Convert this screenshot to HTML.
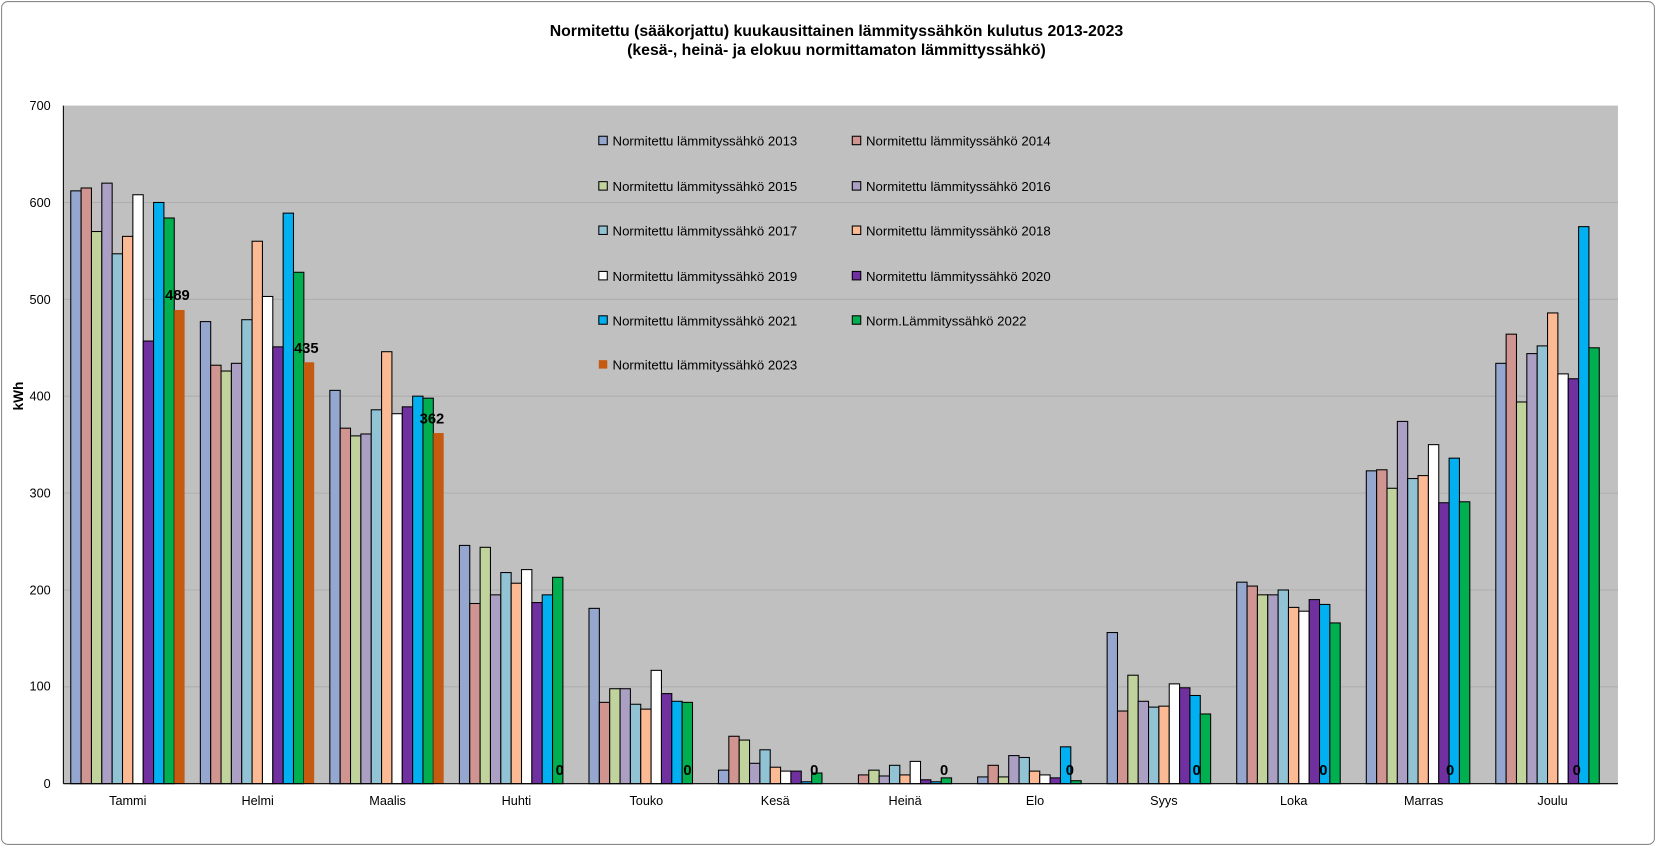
<!DOCTYPE html>
<html><head><meta charset="utf-8"><style>
html,body{margin:0;padding:0;background:#fff;}
svg{display:block;font-family:"Liberation Sans",sans-serif;}
</style></head><body>
<svg id="c" width="1656" height="846" viewBox="0 0 1568 801" preserveAspectRatio="none" xmlns="http://www.w3.org/2000/svg">
<rect x="1.5" y="1.5" width="1565" height="798" rx="6" fill="#fff" stroke="#888" stroke-width="1"/>
<text x="792" y="34" text-anchor="middle" font-size="15" font-weight="bold">Normitettu (sääkorjattu) kuukausittainen lämmityssähkön kulutus 2013-2023</text>
<text x="792" y="52" text-anchor="middle" font-size="15" font-weight="bold">(kesä-, heinä- ja elokuu normittamaton lämmittyssähkö)</text>
<rect x="60" y="100" width="1472" height="642" fill="#c0c0c0"/>
<g stroke="#aeaeae" stroke-width="1">
<line x1="60" x2="1532" y1="650.3" y2="650.3"/><line x1="60" x2="1532" y1="558.6" y2="558.6"/>
<line x1="60" x2="1532" y1="466.9" y2="466.9"/><line x1="60" x2="1532" y1="375.1" y2="375.1"/>
<line x1="60" x2="1532" y1="283.4" y2="283.4"/><line x1="60" x2="1532" y1="191.7" y2="191.7"/>
</g>
<g id="bars"></g>
<line x1="60" x2="60" y1="100" y2="742" stroke="#000"/>
<line x1="60" x2="1532" y1="742" y2="742" stroke="#000"/>
<g font-size="12" text-anchor="end">
<text x="48" y="746">0</text><text x="48" y="654">100</text><text x="48" y="563">200</text><text x="48" y="471">300</text>
<text x="48" y="379">400</text><text x="48" y="288">500</text><text x="48" y="196">600</text><text x="48" y="104">700</text>
</g>
<text transform="translate(22,375) rotate(-90)" text-anchor="middle" font-size="13" font-weight="bold">kWh</text>
<g font-size="12" text-anchor="middle">
<text x="121" y="762">Tammi</text><text x="244" y="762">Helmi</text><text x="367" y="762">Maalis</text><text x="489" y="762">Huhti</text>
<text x="612" y="762">Touko</text><text x="734" y="762">Kesä</text><text x="857" y="762">Heinä</text><text x="980" y="762">Elo</text>
<text x="1102" y="762">Syys</text><text x="1225" y="762">Loka</text><text x="1348" y="762">Marras</text><text x="1470" y="762">Joulu</text>
</g>
<g font-size="14" font-weight="bold" text-anchor="middle">
<text x="168" y="284">489</text><text x="290" y="334">435</text><text x="409" y="401">362</text>
<text x="530" y="734">0</text><text x="651" y="734">0</text><text x="771" y="734">0</text><text x="894" y="734">0</text>
<text x="1013" y="734">0</text><text x="1133" y="734">0</text><text x="1253" y="734">0</text><text x="1373" y="734">0</text><text x="1493" y="734">0</text>
</g>
<g font-size="12.5" fill="#000">
<rect x="567" y="129" width="8" height="8" fill="#95a7cf" stroke="#000"/><text x="580" y="138">Normitettu lämmityssähkö 2013</text>
<rect x="807" y="129" width="8" height="8" fill="#d09590" stroke="#000"/><text x="820" y="138">Normitettu lämmityssähkö 2014</text>
<rect x="567" y="172" width="8" height="8" fill="#c0d39d" stroke="#000"/><text x="580" y="181">Normitettu lämmityssähkö 2015</text>
<rect x="807" y="172" width="8" height="8" fill="#ab9fc3" stroke="#000"/><text x="820" y="181">Normitettu lämmityssähkö 2016</text>
<rect x="567" y="214" width="8" height="8" fill="#92c3d5" stroke="#000"/><text x="580" y="223">Normitettu lämmityssähkö 2017</text>
<rect x="807" y="214" width="8" height="8" fill="#fbb994" stroke="#000"/><text x="820" y="223">Normitettu lämmityssähkö 2018</text>
<rect x="567" y="257" width="8" height="8" fill="#ffffff" stroke="#000"/><text x="580" y="266">Normitettu lämmityssähkö 2019</text>
<rect x="807" y="257" width="8" height="8" fill="#7030a0" stroke="#000"/><text x="820" y="266">Normitettu lämmityssähkö 2020</text>
<rect x="567" y="299" width="8" height="8" fill="#00b0f0" stroke="#000"/><text x="580" y="308">Normitettu lämmityssähkö 2021</text>
<rect x="807" y="299" width="8" height="8" fill="#00b050" stroke="#000"/><text x="820" y="308">Norm.Lämmityssähkö 2022</text>
<rect x="567" y="341" width="8" height="8" fill="#c55a11"/><text x="580" y="350">Normitettu lämmityssähkö 2023</text>
</g>
</svg>
<script>
var d=[[612,615,570,620,547,565,608,457,600,584,489],[477,432,426,434,479,560,503,451,589,528,435],[406,367,359,361,386,446,382,389,400,398,362],[246,186,244,195,218,207,221,187,195,213,0],[181,84,98,98,82,77,117,93,85,84,0],[14,49,45,21,35,17,13,13,2,11,0],[0,9,14,8,19,9,23,4,2,6,0],[7,19,7,29,27,13,9,6,38,3,0],[156,75,112,85,79,80,103,99,91,72,0],[208,204,195,195,200,182,178,190,185,166,0],[323,324,305,374,315,318,350,290,336,291,0],[434,464,394,444,452,486,423,418,575,450,0]];
var c=["#95a7cf","#d09590","#c0d39d","#ab9fc3","#92c3d5","#fbb994","#ffffff","#7030a0","#00b0f0","#00b050","#c55a11"];
var g=document.getElementById("bars"),s="";
for(var i=0;i<12;i++)for(var j=0;j<11;j++){var v=d[i][j];if(!v)continue;var h=v*0.91714,x=60+i*122.667+7+j*9.8;
s+='<rect x="'+x.toFixed(1)+'" y="'+(742-h).toFixed(1)+'" width="9.8" height="'+h.toFixed(1)+'" fill="'+c[j]+'"'+(j<10?' stroke="#000" stroke-width="1"':'')+'/>';}
g.innerHTML=s;
</script>
</body></html>
